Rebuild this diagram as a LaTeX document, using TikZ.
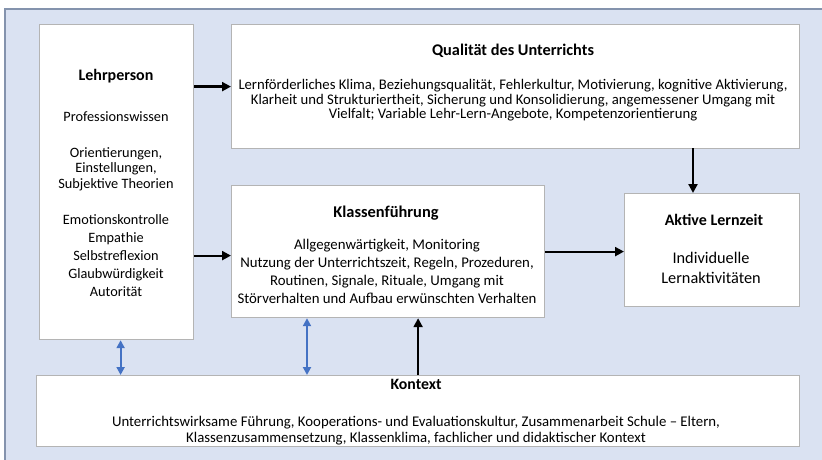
\documentclass[tikz,border=0pt]{standalone}
\usepackage{fontspec}
\setmainfont{Carlito}
\usetikzlibrary{arrows.meta}
\definecolor{panel}{HTML}{DAE2F2}
\definecolor{panelrule}{HTML}{8493AD}
\definecolor{boxrule}{HTML}{B4B4B4}
\definecolor{linkblue}{HTML}{4472C4}
\tikzset{
  box/.style={draw=boxrule, line width=1.2pt, fill=white, anchor=north west, inner sep=0pt},
  txt/.style={align=center, inner sep=0pt},
  ttl/.style={align=center, inner sep=0pt, font=\bfseries\fontsize{16.3}{19}\selectfont},
  flow/.style={line width=2.2pt, -{Triangle[length=9pt,width=9pt]}},
  link/.style={draw=linkblue, line width=2pt, {Triangle[length=8pt,width=8pt]}-{Triangle[length=8pt,width=8pt]}}
}
\begin{document}
\begin{tikzpicture}[x=1pt,y=-1pt]
\useasboundingbox (0,0) rectangle (822,460);
\begin{scope}
\clip (0,0) rectangle (822,460);
\fill[panel, draw=panelrule, line width=2pt] (5,9) rectangle (840,480);
\end{scope}

% boxes
\node[box, minimum width=154pt, minimum height=315pt] (lehr) at (39,24) {};
\node[box, minimum width=568pt, minimum height=124pt] (qual) at (231,24) {};
\node[box, minimum width=313pt, minimum height=132pt] (klass) at (231,185) {};
\node[box, minimum width=175pt, minimum height=113pt] (aktiv) at (624,193) {};
\node[box, minimum width=763pt, minimum height=71pt] (kontext) at (36,375) {};

% Lehrperson
\node[ttl, font=\bfseries\fontsize{16}{19}\selectfont] (lehrT) at (116,76) {Lehrperson};
\node[txt, font=\fontsize{14.3}{15.5}\selectfont] (lehrA) at (116,117) {Professionswissen};
\node[txt, font=\fontsize{14.3}{15.5}\selectfont] (lehrB) at (116,169) {Orientierungen,\\Einstellungen,\\Subjektive Theorien};
\node[txt, font=\fontsize{14.3}{18}\selectfont] (lehrC) at (116,256) {Emotionskontrolle\\Empathie\\Selbstreflexion\\Glaubwürdigkeit\\Autorität};

% Qualität des Unterrichts
\node[ttl] (qualT) at (513,51) {Qualität des Unterrichts};
\node[txt, font=\fontsize{14.7}{14.6}\selectfont] (qualA) at (513,100.5) {Lernförderliches Klima, Beziehungsqualität, Fehlerkultur, Motivierung, kognitive Aktivierung,\\Klarheit und Strukturiertheit, Sicherung und Konsolidierung, angemessener Umgang mit\\Vielfalt; Variable Lehr-Lern-Angebote, Kompetenzorientierung};

% Klassenführung
\node[ttl, font=\bfseries\fontsize{16.4}{19}\selectfont] (klassT) at (386,213) {Klassenführung};
\node[txt, font=\fontsize{14.8}{18}\selectfont] (klassA) at (387,271) {Allgegenwärtigkeit, Monitoring\\Nutzung der Unterrichtszeit, Regeln, Prozeduren,\\Routinen, Signale, Rituale, Umgang mit\\Störverhalten und Aufbau erwünschten Verhalten};

% Aktive Lernzeit
\node[ttl, font=\bfseries\fontsize{16}{19}\selectfont] (aktivT) at (714,220) {Aktive Lernzeit};
\node[txt, font=\fontsize{16.3}{20}\selectfont] (aktivA) at (711,268) {Individuelle\\Lernaktivitäten};

% Kontext
\node[ttl, font=\bfseries\fontsize{15.8}{18}\selectfont] (kontextT) at (416,384) {Kontext};
\node[txt, font=\fontsize{14.8}{16}\selectfont] (kontextA) at (416,431) {Unterrichtswirksame Führung, Kooperations- und Evaluationskultur, Zusammenarbeit Schule -- Eltern,\\Klassenzusammensetzung, Klassenklima, fachlicher und didaktischer Kontext};

% connectors
\coordinate (qualfoot) at (693,148);
\draw[flow] (lehr.east |- qual.west) -- (qual.west);
\draw[flow] ([yshift=-4pt]lehr.east |- klass.west) -- ([yshift=-4pt]klass.west);
\draw[flow] (klass.east) -- (klass.east -| aktiv.west);
\draw[flow] (qualfoot) -- (qualfoot |- aktiv.north);
\draw[flow] (kontext.north) -- (kontext.north |- klass.south);
\draw[link] ([xshift=4pt]lehr.south) -- ([xshift=4pt]lehr.south |- kontext.north);
\draw[link] (klass.south -| 307,0) -- (kontext.north -| 307,0);
\end{tikzpicture}
\end{document}
